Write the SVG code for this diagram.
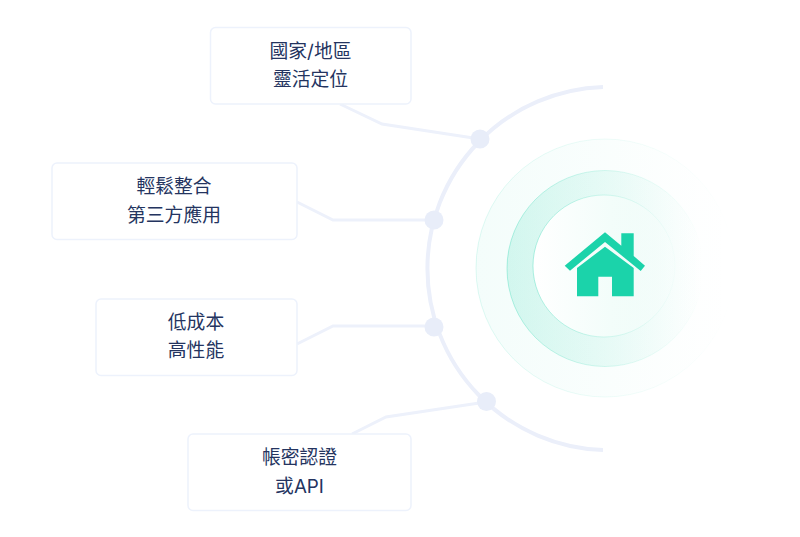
<svg xmlns="http://www.w3.org/2000/svg" width="800" height="537" viewBox="0 0 800 537">
<style>
.box{fill:#fff;stroke:#edf2fc;stroke-width:1.5}
.lbl{font-family:"Inter","Noto Sans CJK TC","Noto Sans CJK SC",sans-serif;font-size:18.8px;fill:#24345f;text-anchor:middle}
.line{fill:none;stroke:#edf1fb;stroke-width:3}
.arc{fill:none;stroke:#ebeffa;stroke-width:4}
.dot{fill:#e8edf9}
</style>
<defs>
<linearGradient id="g1" x1="0" x2="1" y1="0" y2="0"><stop offset="0" stop-color="#1bd3aa" stop-opacity=".05"/><stop offset=".8" stop-color="#1bd3aa" stop-opacity=".008"/><stop offset="1" stop-color="#1bd3aa" stop-opacity="0"/></linearGradient>
<linearGradient id="s1" x1="0" x2="1" y1="0" y2="0"><stop offset="0" stop-color="#1bd3aa" stop-opacity=".14"/><stop offset="1" stop-color="#1bd3aa" stop-opacity="0"/></linearGradient>
<linearGradient id="g2" x1="0" x2="1" y1="0" y2="0"><stop offset="0" stop-color="#1bd3aa" stop-opacity=".16"/><stop offset=".55" stop-color="#1bd3aa" stop-opacity=".08"/><stop offset="1" stop-color="#1bd3aa" stop-opacity="0"/></linearGradient>
<linearGradient id="s2" x1="0" x2="1" y1="0" y2="0"><stop offset="0" stop-color="#1bd3aa" stop-opacity=".32"/><stop offset="1" stop-color="#1bd3aa" stop-opacity="0"/></linearGradient>
<linearGradient id="g3" x1="0" x2="1" y1="0" y2="0"><stop offset="0" stop-color="#fff"/><stop offset=".55" stop-color="#f3fdfa"/><stop offset="1" stop-color="#f5fdfb" stop-opacity=".3"/></linearGradient>
<linearGradient id="s3" x1="0" x2="1" y1="0" y2="0"><stop offset="0" stop-color="#1bd3aa" stop-opacity=".32"/><stop offset="1" stop-color="#1bd3aa" stop-opacity=".02"/></linearGradient>
</defs>
<rect width="800" height="537" fill="#fff"/>
<g id="connectors">
<path class="arc" d="M603 87A181.600 181.600 0 0 0 603 450"/>
<path class="line" d="M480 139L382 124L340 104"/>
<path class="line" d="M434 220H333L297 202"/>
<path class="line" d="M434 326H333L297 344"/>
<path class="line" d="M486 402L386 417L352 434"/>
</g>
<g id="dots">
<circle class="dot" cx="480" cy="139" r="9.5"/>
<circle class="dot" cx="434" cy="220" r="9.5"/>
<circle class="dot" cx="434" cy="327" r="9.5"/>
<circle class="dot" cx="486.500" cy="401.500" r="9.5"/>
</g>
<g id="hub">
<circle cx="605" cy="268" r="129" fill="url(#g1)" stroke="url(#s1)"/>
<circle cx="605" cy="268.500" r="98" fill="url(#g2)" stroke="url(#s2)"/>
<circle cx="604" cy="266" r="71" fill="url(#g3)" stroke="url(#s3)"/>
<path fill="#1bd3aa" d="M564.700 265.700L605 232.300L621.300 245.800V233.300H633.700V256L645 265.700L640.700 271L605 242L570 270.700Z"/>
<path fill="#1bd3aa" d="M577 268L605 246.700L633.700 268V296.300H612V276.700H598.300V296.300H577Z"/>
</g>
<g id="node-1"><rect class="box" x="210.500" y="27.500" width="200.500" height="76.500" rx="5"/><text class="lbl" x="310.500" y="58">國家/地區</text><text class="lbl" x="310.500" y="86">靈活定位</text></g>
<g id="node-2"><rect class="box" x="52" y="163" width="245" height="76.500" rx="5"/><text class="lbl" x="174" y="193">輕鬆整合</text><text class="lbl" x="174" y="221.500">第三方應用</text></g>
<g id="node-3"><rect class="box" x="96" y="299" width="201" height="76.500" rx="5"/><text class="lbl" x="196" y="329">低成本</text><text class="lbl" x="196" y="357">高性能</text></g>
<g id="node-4"><rect class="box" x="188" y="434" width="223" height="76.500" rx="5"/><text class="lbl" x="299.500" y="464">帳密認證</text><text class="lbl" x="299.500" y="492.500">或API</text></g>
</svg>
